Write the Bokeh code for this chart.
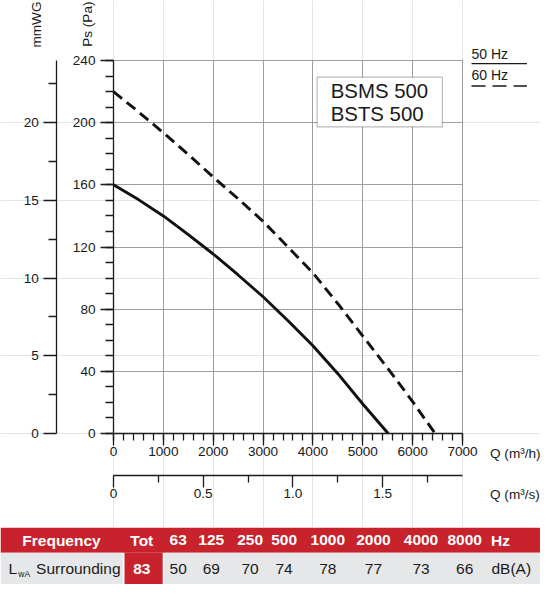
from math import pi

from bokeh.plotting import figure
from bokeh.layouts import column
from bokeh.models import (Range1d, LinearAxis, FixedTicker, Grid, Label,
                          BoxAnnotation, Arrow, ColumnDataSource)
from bokeh.core.properties import value
from bokeh.embed import file_html
from bokeh.resources import INLINE

# fan curve BSMS 500 / BSTS 500
q_50hz = [0, 500, 1000, 1500, 2000, 2500, 3000, 3500, 4000, 4500, 5000, 5510]
ps_50hz = [160, 150.5, 140, 128, 115.5, 102, 88, 72.5, 56.5, 38.5, 19, 0]
q_60hz = [0, 500, 1000, 1500, 2000, 2500, 3000, 3500, 4000, 4500, 5000, 5500, 6000, 6450]
ps_60hz = [220, 207, 193.5, 179.5, 165, 151, 136.5, 120, 103.3, 83.5, 62.7, 42, 20.5, 0]

# axis ticks
pa_ticks = [0, 40, 80, 120, 160, 200, 240]
pa_minor = list(range(0, 241, 10))
mm_ticks = [0, 5, 10, 15, 20]
mm_minor = [2.5, 7.5, 12.5, 17.5, 22.5]
qh_ticks = [0, 1000, 2000, 3000, 4000, 5000, 6000, 7000]
qh_minor = list(range(0, 7001, 200))
qs_ticks = [0, 0.5, 1.0, 1.5]
qs_minor = [0.25, 0.75, 1.25, 1.75]
qs_labels = {0: "0", 0.5: "0.5", 1.0: "1.0", 1.5: "1.5"}

# sound table
freq_bands = ["63", "125", "250", "500", "1000", "2000", "4000", "8000"]
lwa_levels = [50, 69, 70, 74, 78, 77, 73, 66]
lwa_total = 83

FONT = "Liberation Sans"
INK = "#1a1a1a"
RED = "#c8222c"
GREY = "#e6e7e8"

# where the data box sits on the canvas, in pixels
FL, FR, FT, FB = 113, 462, 60, 433
W, H = 540, 527


def dx(px):
    return (px - FL) / (FR - FL) * 7000


def dy(py):
    return (FB - py) / (FB - FT) * 240


p = figure(width=W, height=H, x_range=Range1d(dx(0), dx(W)), y_range=Range1d(dy(H), dy(0)),
           output_backend="svg", toolbar_location=None, min_border=0,
           x_axis_location=None, y_axis_location=None)
p.outline_line_color = None
p.extra_y_ranges = {"mm": Range1d(dy(H) / 10, dy(0) / 10)}
p.extra_x_ranges = {"qs": Range1d(dx(0) / 3600, dx(W) / 3600)}


def style_axis(ax, tick_out, minor_out, standoff):
    ax.axis_line_color = INK
    ax.axis_line_width = 1.3
    ax.major_tick_line_color = INK
    ax.major_tick_line_width = 1.3
    ax.minor_tick_line_color = INK
    ax.minor_tick_line_width = 1.3
    ax.major_tick_in = 0
    ax.minor_tick_in = 0
    ax.major_tick_out = tick_out
    ax.minor_tick_out = minor_out
    ax.major_label_standoff = standoff
    ax.major_label_text_font = FONT
    ax.major_label_text_font_size = "13.6px"
    ax.major_label_text_color = INK


pa_axis = LinearAxis(ticker=FixedTicker(ticks=pa_ticks, minor_ticks=pa_minor),
                     fixed_location=0, bounds=(0, 240))
style_axis(pa_axis, 13, 8, 5)
p.add_layout(pa_axis, "left")

mm_axis = LinearAxis(y_range_name="mm", ticker=FixedTicker(ticks=mm_ticks, minor_ticks=mm_minor),
                     fixed_location=dx(56.3), bounds=(0, 24))
style_axis(mm_axis, 13, 8, 5)
p.add_layout(mm_axis, "left")

qh_axis = LinearAxis(ticker=FixedTicker(ticks=qh_ticks, minor_ticks=qh_minor),
                     fixed_location=0, bounds=(0, 7000))
style_axis(qh_axis, 12, 7, 1)
p.add_layout(qh_axis, "below")

qs_axis = LinearAxis(x_range_name="qs", ticker=FixedTicker(ticks=qs_ticks, minor_ticks=qs_minor),
                     fixed_location=dy(474.9), bounds=(0, 7000 / 3600))
style_axis(qs_axis, 12, 7, 2)
qs_axis.major_label_overrides = qs_labels
p.add_layout(qs_axis, "below")

p.add_layout(Grid(dimension=0, ticker=FixedTicker(ticks=qh_ticks), cross_bounds=(0, 240),
                  grid_line_color="#9d9d9d", grid_line_width=1))
p.add_layout(Grid(dimension=1, ticker=FixedTicker(ticks=pa_ticks), cross_bounds=(0, 7000),
                  grid_line_color="#9d9d9d", grid_line_width=1))

p.line(q_50hz, ps_50hz, line_color="#111111", line_width=2.9)
p.line(q_60hz, ps_60hz, line_color="#111111", line_width=2.9, line_dash="11 6")


def add_text(x, y, txt, size="13.6px", align="left", angle=0):
    p.add_layout(Label(x=x, y=y, text=txt, angle=angle, text_align=align,
                       text_baseline="middle", text_font=FONT, text_font_size=size,
                       text_color=INK))


add_text(dx(36), dy(1), "mmWG", align="right", angle=pi / 2)
add_text(dx(87.4), dy(1), "Ps (Pa)", align="right", angle=pi / 2)
add_text(dx(489.5), dy(452.6), "Q (m³/h)")
add_text(dx(489.5), dy(494.3), "Q (m³/s)")

# model box
p.add_layout(BoxAnnotation(left=dx(316.6), right=dx(441.9), top=dy(76.7), bottom=dy(126.3),
                           fill_color="white", fill_alpha=1, line_color=INK, line_width=1.2))
add_text(dx(330.2), dy(90.3), "BSMS 500", size="20.4px")
add_text(dx(330.2), dy(113.6), "BSTS 500", size="20.4px")

# legend top right
add_text(dx(471), dy(53.4), "50 Hz", size="14px")
add_text(dx(471), dy(74.8), "60 Hz", size="14px")
p.add_layout(Arrow(end=None, x_start=dx(471), x_end=dx(526.4), y_start=dy(63.1), y_end=dy(63.1),
                   line_color=INK, line_width=1.3))
p.add_layout(Arrow(end=None, x_start=dx(471), x_end=dx(526.4), y_start=dy(85.5), y_end=dy(85.5),
                   line_color=INK, line_width=1.3, line_dash="14 7"))

# sound power table
TH = 57
t = figure(width=W, height=TH, x_range=Range1d(0, W), y_range=Range1d(0, TH),
           output_backend="svg", toolbar_location=None, min_border=0,
           x_axis_location=None, y_axis_location=None)
t.grid.visible = False
t.outline_line_color = None

head_top, head_bot = TH, TH - 25.2
t.quad(left=[0], right=[W], top=[head_top], bottom=[head_bot], fill_color=RED, line_color=None)
t.quad(left=[0, 163.7], right=[122.4, W], top=[head_bot] * 2, bottom=[0] * 2,
       fill_color=GREY, line_color=None)
t.quad(left=[124], right=[162.2], top=[head_bot], bottom=[0], fill_color=RED, line_color=None)

band_x = [177.7, 210.8, 249.6, 283.6, 327.3, 372.9, 420.5, 464.2]
head_y = TH - 12.6
body_y = TH - 41.1

head = ColumnDataSource(dict(x=[61, 141.3] + band_x, y=[head_y] * 10,
                             text=["Frequency", "Tot"] + freq_bands))
t.text(x="x", y="y", text="text", source=head, text_color="white", text_font=value(FONT),
       text_font_style="bold", text_font_size="15.5px", text_align="center",
       text_baseline="middle")
t.text(x=[490.5], y=[head_y], text=["Hz"], text_color="white", text_font=value(FONT),
       text_font_style="bold", text_font_size="15.5px", text_baseline="middle")

t.text(x=[141.3], y=[body_y], text=[str(lwa_total)], text_color="white", text_font=value(FONT),
       text_font_style="bold", text_font_size="15.5px", text_align="center",
       text_baseline="middle")
body = ColumnDataSource(dict(x=band_x, y=[body_y] * 8, text=[str(v) for v in lwa_levels]))
t.text(x="x", y="y", text="text", source=body, text_color=INK, text_font=value(FONT),
       text_font_size="15.5px", text_align="center", text_baseline="middle")
t.text(x=[491, 8.1, 35.6], y=[body_y] * 3, text=["dB(A)", "L", "Surrounding"],
       text_color=INK, text_font=value(FONT), text_font_size="15.5px",
       text_baseline="middle")
t.text(x=[17.8], y=[body_y - 5.8], text=["wA"], text_color=INK, text_font=value(FONT),
       text_font_size="8.5px", text_baseline="middle")

layout = column(p, t, spacing=0)
open("out.html", "w").write(file_html(layout, INLINE))
